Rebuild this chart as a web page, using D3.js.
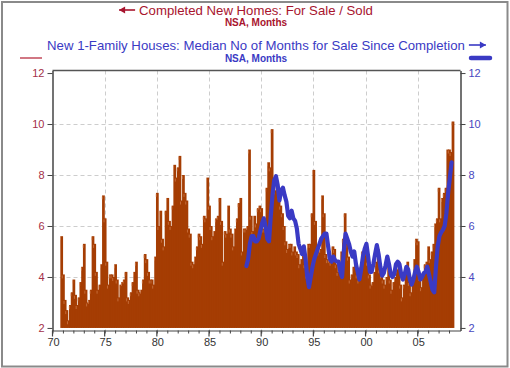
<!DOCTYPE html>
<html><head><meta charset="utf-8">
<script src="https://cdn.jsdelivr.net/npm/d3@7"></script>
<style>
body{margin:0;background:#fff}
svg{display:block;font-family:"Liberation Sans",Arial,sans-serif}
</style></head>
<body><svg id="c" width="510" height="368"></svg>
<script>
// ---- data ----
const barStartYear = 1970.75;      // Oct 1970, bimonthly observations
const barStepYears = 1 / 6;
const forSaleSold = [
5.6,4.1,3.1,2.7,2.3,2.9,3.4,3.9,3.3,2.9,
3.2,3.8,4.4,5.3,3.5,3.0,3.1,3.5,5.6,5.3,
4.2,3.5,3.7,4.5,7.2,6.3,4.6,3.7,4.1,4.1,
4.0,4.5,3.9,3.2,3.7,3.8,3.9,4.2,3.2,3.1,
3.4,3.8,4.2,4.6,3.5,3.4,3.5,3.9,4.9,4.7,
4.2,3.9,3.9,3.7,4.8,7.3,6.0,6.6,5.5,5.2,
6.6,7.1,6.2,6.0,6.8,8.4,7.9,8.3,8.75,7.0,
8.0,7.3,7.0,5.9,5.7,4.6,4.5,4.8,5.2,5.7,
5.6,5.3,6.4,6.3,7.9,6.8,6.0,5.6,5.8,6.3,
6.4,7.1,6.2,4.6,5.8,5.7,6.8,5.9,5.7,5.2,
5.9,6.3,6.9,7.1,5.0,5.9,5.9,6.0,9.0,6.4,
5.8,6.4,6.1,6.7,6.8,6.7,5.9,5.9,7.5,8.5,
8.3,9.8,7.6,7.4,7.6,7.2,6.8,6.5,6.0,5.4,
5.1,5.3,5.3,5.0,5.2,5.0,4.9,4.5,4.7,5.0,
4.5,4.1,5.3,5.3,6.5,8.2,6.2,5.0,5.0,5.1,
7.2,6.5,4.9,4.7,4.7,4.6,5.2,5.1,4.5,4.2,
4.4,5.0,5.5,6.5,5.3,4.8,3.9,4.1,4.4,4.6,
4.1,3.9,4.4,5.0,4.8,5.0,4.6,4.1,3.7,3.8,
4.2,4.6,5.1,4.3,4.1,3.9,3.7,4.0,4.4,3.9,
3.5,3.8,4.0,4.3,4.6,3.7,3.2,3.7,4.3,4.6,
3.8,3.4,3.8,4.7,5.5,5.4,4.0,3.6,4.2,4.5,
4.6,5.2,4.7,5.0,5.3,6.1,6.3,7.5,6.3,7.1,
7.3,7.5,9.0,9.0,8.9,10.1
];
const lineStartYear = 1988.583;    // Aug 1988, bimonthly observations
const lineStepYears = 1 / 6;
const medianMonths = [
4.43,4.7,5.3,5.6,5.6,5.4,5.4,5.5,5.8,6.1,
6.3,6.0,5.5,5.4,6.4,7.2,7.8,7.95,7.6,7.0,
7.4,7.5,7.2,6.95,6.4,6.3,6.6,6.3,6.2,5.9,
5.3,5.1,4.9,5.2,4.7,4.0,3.6,4.0,4.4,4.7,
4.9,5.1,5.3,5.5,5.6,5.7,5.7,5.2,4.7,4.6,
4.8,4.65,4.6,4.6,4.2,4.0,5.0,5.7,5.5,5.3,
5.0,4.8,5.0,4.5,4.2,3.9,4.3,4.8,5.1,5.3,
4.8,4.2,4.2,4.5,4.9,5.25,4.9,4.4,4.05,4.15,
4.45,4.8,4.5,4.1,4.0,4.1,4.5,4.6,4.5,4.1,
3.9,4.1,4.4,4.3,3.9,3.7,3.9,4.2,4.4,4.2,
3.9,4.0,4.15,4.2,4.4,4.1,3.8,3.5,3.4,4.4,
5.2,5.6,5.75,5.85,6.0,6.5,7.3,7.9,8.5
];
const yTicks = [2, 4, 6, 8, 10, 12];
const yGrid = [4, 6, 8, 10];
const xMajorYears = [1970, 1975, 1980, 1985, 1990, 1995, 2000, 2005];
const xTickLabels = ["70", "75", "80", "85", "90", "95", "00", "05"];
const xMinorYears = d3.range(1970, 2009);
const title1 = "Completed New Homes: For Sale / Sold";
const title2 = "New 1-Family Houses: Median No of Months for Sale Since Completion";
const subtitle = "NSA, Months";

// ---- layout ----
const svg = d3.select("#c");
const L = 52.5, R = 460.5, T = 70.5, B = 330.5;
const x = d3.scaleLinear().domain([1970, 2009.1]).range([L, R]);
const y = d3.scaleLinear().domain([1.9, 12.1]).range([B, T]);
const red = "#a8142e", blue = "#3a3ac4";

// outer frame
svg.append("rect").attr("x", 2).attr("y", 2).attr("width", 505.5).attr("height", 364.5)
  .attr("fill", "none").attr("stroke", "#8a8a8a").attr("stroke-width", 2);

// grid
const grid = svg.append("g").attr("stroke", "#cdcdcd").attr("stroke-dasharray", "4,3").attr("stroke-width", 1);
grid.selectAll("line.h").data(yGrid).join("line")
  .attr("x1", L).attr("x2", R).attr("y1", d => Math.round(y(d)) + 0.5).attr("y2", d => Math.round(y(d)) + 0.5);
grid.selectAll("line.v").data(xMajorYears.slice(1)).join("line")
  .attr("y1", T).attr("y2", B).attr("x1", d => Math.round(x(d)) + 0.5).attr("x2", d => Math.round(x(d)) + 0.5);

// bars
const barData = forSaleSold.map((v, i) => ({t: barStartYear + i * barStepYears, v}));
const bars = svg.append("g");
bars.selectAll("rect").data(barData).join("rect")
  .attr("x", d => x(d.t))
  .attr("width", d => x(d.t + barStepYears) - x(d.t) + 1)
  .attr("y", d => y(d.v))
  .attr("height", d => y(2) - y(d.v))
  .attr("fill", "#a53d03");
// thin light highlight along each bar top (as in the reference's antialiased spikes)
bars.selectAll("line").data(barData).join("line")
  .attr("x1", d => x(d.t) + 0.2).attr("x2", d => x(d.t) + 0.2)
  .attr("y1", d => y(d.v) + 1).attr("y2", d => y(d.v) + 4)
  .attr("stroke", "#d98a5c").attr("stroke-width", 0.6);

// line
const lineData = medianMonths.map((v, i) => ({t: lineStartYear + i * lineStepYears, v}));
svg.append("path").datum(lineData)
  .attr("d", d3.line().x(d => x(d.t)).y(d => y(d.v)))
  .attr("fill", "none").attr("stroke", blue).attr("stroke-width", 4.2)
  .attr("stroke-linejoin", "round").attr("stroke-linecap", "round");

// top frame line
svg.append("line").attr("x1", L).attr("x2", R).attr("y1", T).attr("y2", T)
  .attr("stroke", "#555").attr("stroke-width", 1.5);

// left axis
const ax = svg.append("g").attr("transform", `translate(${L},0)`)
  .call(d3.axisLeft(y).tickValues(yTicks).tickSize(5).tickSizeOuter(0).tickPadding(3));
ax.select(".domain").attr("stroke", "#444").attr("stroke-width", 1.5);
ax.selectAll(".tick line").attr("stroke", "#444");
ax.selectAll("text").attr("fill", "#a33048").attr("font-size", 11).attr("font-family", "Liberation Sans, Arial, sans-serif");

// right axis
const ar = svg.append("g").attr("transform", `translate(${R},0)`)
  .call(d3.axisRight(y).tickValues(yTicks).tickSize(5).tickSizeOuter(0).tickPadding(3));
ar.select(".domain").attr("stroke", "#444").attr("stroke-width", 1.5);
ar.selectAll(".tick line").attr("stroke", "#444");
ar.selectAll("text").attr("fill", "#4848c0").attr("font-size", 11).attr("font-family", "Liberation Sans, Arial, sans-serif");

// bottom axis
const ab = svg.append("g").attr("transform", `translate(0,${B})`);
ab.call(d3.axisBottom(x).tickValues(xMinorYears).tickSize(3).tickSizeOuter(0).tickFormat(""));
ab.select(".domain").attr("stroke", "#444").attr("stroke-width", 1.2);
ab.selectAll(".tick line").attr("stroke", "#444");
ab.selectAll("line.major").data(xMajorYears).join("line").attr("class", "major")
  .attr("x1", d => x(d)).attr("x2", d => x(d)).attr("y1", 0).attr("y2", 6)
  .attr("stroke", "#444").attr("stroke-width", 1.2);
ab.selectAll("text.lbl").data(xMajorYears).join("text").attr("class", "lbl")
  .attr("x", d => x(d) + 1).attr("y", 15)
  .attr("font-size", 11).attr("fill", "#333")
  .text((d, i) => xTickLabels[i]);

// titles
const t1 = svg.append("text").attr("x", 256).attr("y", 15).attr("text-anchor", "middle")
  .attr("font-size", 13.2).attr("fill", red).text(title1);
svg.append("text").attr("x", 256).attr("y", 25.5).attr("text-anchor", "middle")
  .attr("font-size", 10).attr("font-weight", "bold").attr("fill", red).text(subtitle);
const t2 = svg.append("text").attr("x", 256).attr("y", 50).attr("text-anchor", "middle")
  .attr("font-size", 13.2).attr("fill", blue).text(title2);
svg.append("text").attr("x", 256).attr("y", 61.5).attr("text-anchor", "middle")
  .attr("font-size", 10).attr("font-weight", "bold").attr("fill", blue).text(subtitle);

// arrows
function arrow(x1, x2, yy, color) {
  svg.append("line").attr("x1", x1).attr("x2", x2).attr("y1", yy).attr("y2", yy)
    .attr("stroke", color).attr("stroke-width", 1.6);
  const dir = Math.sign(x2 - x1);
  svg.append("path").attr("d", `M${x2},${yy} L${x2 - dir * 6},${yy - 3.5} L${x2 - dir * 6},${yy + 3.5} Z`)
    .attr("fill", color);
}
const w1 = t1.node().getComputedTextLength();
arrow(256 - w1 / 2 - 4, 256 - w1 / 2 - 20, 10, red);
const w2 = t2.node().getComputedTextLength();
arrow(256 + w2 / 2 + 4, 256 + w2 / 2 + 21, 45, blue);

// legend keys
svg.append("line").attr("x1", 20).attr("x2", 42).attr("y1", 58).attr("y2", 58)
  .attr("stroke", "#c24a5a").attr("stroke-width", 1.5);
svg.append("line").attr("x1", 471).attr("x2", 490).attr("y1", 58).attr("y2", 58)
  .attr("stroke", blue).attr("stroke-width", 4.5).attr("stroke-linecap", "round");
</script>
</body></html>
